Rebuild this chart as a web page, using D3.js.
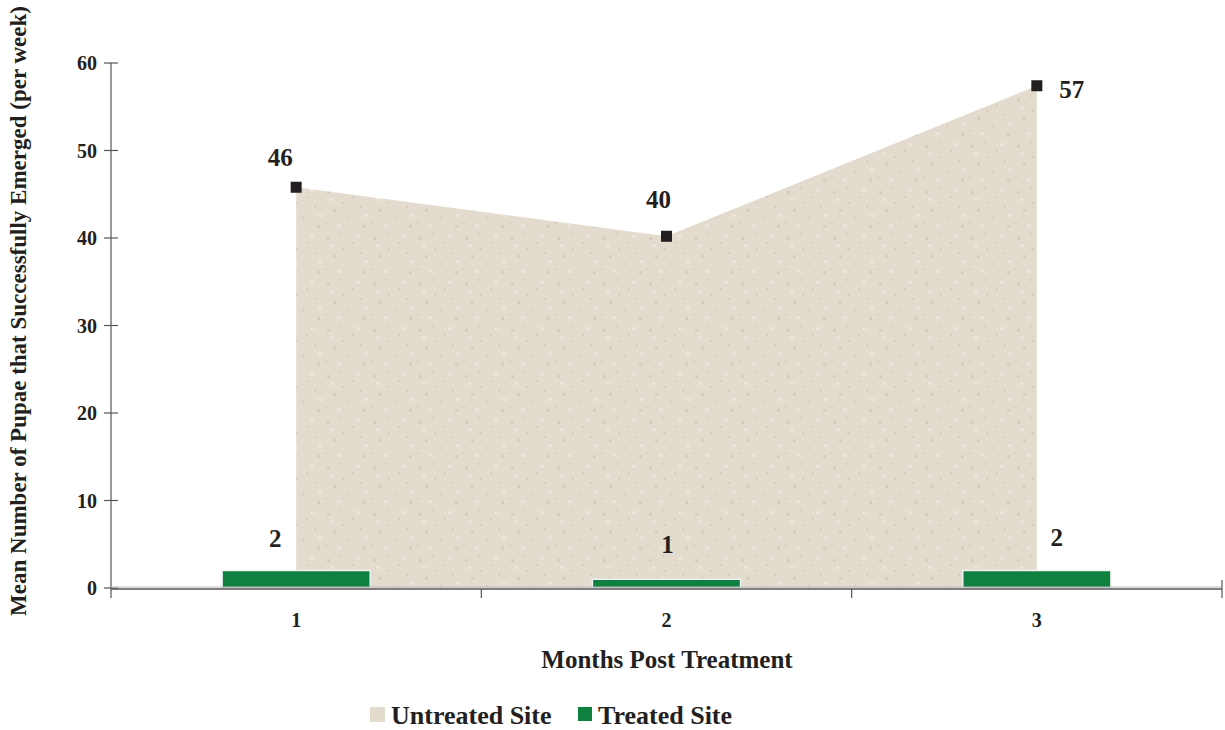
<!DOCTYPE html>
<html><head><meta charset="utf-8">
<script src="https://cdn.jsdelivr.net/npm/d3@7"></script>
<style>body{margin:0;background:#fff}svg text{font-family:"Liberation Serif","DejaVu Serif",serif;font-weight:bold;fill:#231f20}</style>
</head><body><svg id="c" width="1225" height="730"></svg>
<script>
const categories = ["1","2","3"];
const untreated = [45.8, 40.2, 57.4];
const untreatedLabels = ["46","40","57"];
const treated = [2, 1, 2];
const treatedLabels = ["2","1","2"];
const yTicks = [0,10,20,30,40,50,60];

const svg = d3.select("#c");
const x = d3.scaleBand().domain(categories).range([111,1222]).paddingInner(0).paddingOuter(0);
const y = d3.scaleLinear().domain([0,60]).range([588,63]);
const cx = c => x(c) + x.bandwidth()/2;

// defs: texture
const defs = svg.append("defs");
const pat = defs.append("pattern").attr("id","tex").attr("patternUnits","userSpaceOnUse").attr("width",46).attr("height",46);
pat.append("rect").attr("width",46).attr("height",46).attr("fill","#e3dbce");
[[5,7,3],[18,3,2],[30,12,2],[11,25,3],[26,33,2],[38,22,2],[3,38,2],[20,18,2],[41,41,3]].forEach(([a,b,s])=>pat.append("rect").attr("x",a).attr("y",b).attr("width",s).attr("height",s).attr("fill","#d6cdbd"));
[[8,14],[34,5],[15,40],[42,30]].forEach(([a,b])=>pat.append("rect").attr("x",a).attr("y",b).attr("width",4).attr("height",3).attr("fill","#ebe4d9"));

// area
const area = d3.area().x((d,i)=>cx(categories[i])).y0(y(0)).y1(d=>y(d));
svg.append("path").datum(untreated).attr("d",area).attr("fill","url(#tex)");

// bars
const bw = x.bandwidth()*0.4;
svg.selectAll(".bar").data(treated).join("rect")
  .attr("x",(d,i)=>cx(categories[i])-bw/2).attr("width",bw)
  .attr("y",d=>y(d)).attr("height",d=>y(0)-y(d))
  .attr("fill","#0f8040").attr("stroke","#f2f2f2").attr("stroke-width",1.5);

// y axis
const yAxis = svg.append("g");
yAxis.append("line").attr("x1",111).attr("x2",111).attr("y1",y(60)).attr("y2",598).attr("stroke","#555").attr("stroke-width",1.2);
yAxis.selectAll(".yt").data(yTicks).join("line").attr("x1",104).attr("x2",118).attr("y1",d=>y(d)).attr("y2",d=>y(d)).attr("stroke","#555").attr("stroke-width",1.2);
yAxis.selectAll(".yl").data(yTicks).join("text").attr("x",97).attr("y",d=>y(d)+7).attr("text-anchor","end").attr("font-size",20).text(d=>d);

// x axis
svg.append("line").attr("x1",111).attr("x2",1222).attr("y1",587).attr("y2",587).attr("stroke","#bbb").attr("stroke-width",1);
svg.append("line").attr("x1",111).attr("x2",1222).attr("y1",589).attr("y2",589).attr("stroke","#555").attr("stroke-width",1.5);
const bounds = categories.map(c=>x(c)).concat([x(categories[categories.length-1])+x.bandwidth()]);
svg.selectAll(".xt").data(bounds.slice(1)).join("line").attr("x1",d=>d).attr("x2",d=>d).attr("y1",(d,i)=>i===bounds.length-2?580:589).attr("y2",598).attr("stroke","#555").attr("stroke-width",1.2);
svg.selectAll(".xl").data(categories).join("text").attr("x",d=>cx(d)).attr("y",627).attr("text-anchor","middle").attr("font-size",20).text(d=>d);

// markers
svg.selectAll(".mk").data(untreated).join("rect").attr("x",(d,i)=>cx(categories[i])-5.5).attr("y",d=>y(d)-5.5).attr("width",11).attr("height",11).attr("fill","#231f20");

// labels
const uOff = [[-16,-21],[-8,-28],[35,12]];
svg.selectAll(".ul").data(untreated).join("text").attr("x",(d,i)=>cx(categories[i])+uOff[i][0]).attr("y",(d,i)=>y(d)+uOff[i][1]).attr("text-anchor","middle").attr("font-size",25).text((d,i)=>untreatedLabels[i]);
const tOff = [[-21,-24],[1,-18],[20,-25]];
svg.selectAll(".tl").data(treated).join("text").attr("x",(d,i)=>cx(categories[i])+tOff[i][0]).attr("y",(d,i)=>y(treated[0])+tOff[i][1]).attr("text-anchor","middle").attr("font-size",25).text((d,i)=>treatedLabels[i]);

// titles
svg.append("text").attr("x",667).attr("y",668).attr("text-anchor","middle").attr("font-size",25).text("Months Post Treatment");
svg.append("text").attr("transform","translate(26,311) rotate(-90)").attr("text-anchor","middle").attr("font-size",23).text("Mean Number of  Pupae that Successfully Emerged (per week)");

// legend
const lg = svg.append("g");
lg.append("rect").attr("x",370).attr("y",707).attr("width",15).attr("height",15).attr("fill","#e3dbce");
lg.append("text").attr("x",391).attr("y",724).attr("font-size",26).text("Untreated Site");
lg.append("rect").attr("x",578).attr("y",707).attr("width",14).attr("height",14).attr("fill","#0f8040");
lg.append("text").attr("x",598).attr("y",724).attr("font-size",26).text("Treated Site");
</script></body></html>
